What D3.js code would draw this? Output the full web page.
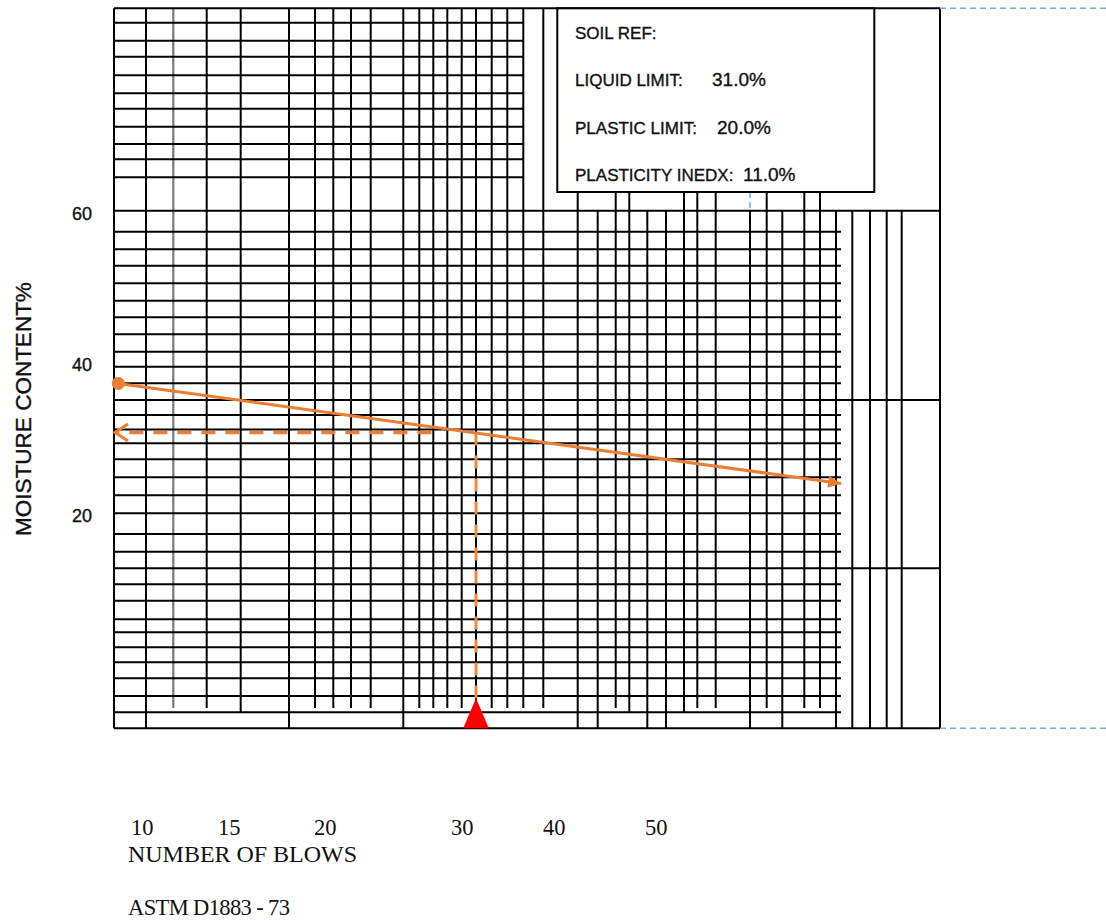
<!DOCTYPE html>
<html>
<head>
<meta charset="utf-8">
<script src="https://cdn.jsdelivr.net/npm/d3@7"></script>
<style>
  html, body { margin: 0; padding: 0; background: #fff; }
  svg { display: block; }
  text { white-space: pre; }
</style>
</head>
<body>
<svg id="chart"></svg>
<script>
// Values
const blows = [10, 63.7];            // flow curve end points (number of blows)
const moisture = [37.5, 24.25];      // moisture content % at those points
const yTicks = [60, 40, 20];
const xTickLabels = ["10", "15", "20", "30", "40", "50"];
const liquidLimit = 31.0;
const plasticLimit = 20.0;
const plasticityIndex = 11.0;
const llBlows = 25;
const guideFromBlows = 22.3;         // where the horizontal guide starts

const boxLabels = ["SOIL REF:", "LIQUID LIMIT:", "PLASTIC LIMIT:", "PLASTICITY INEDX:"];
const boxValues = [null, liquidLimit, plasticLimit, plasticityIndex];

// Page layout (the worksheet cell borders that make up the paper)
const width = 1106;
const height = 922;
const sheet = { left: 114, right: 940, top: 8.3, bottom: 728.3, band: 210.7, gridRight: 841, topRight: 523.3 };
const box = { left: 557.3, right: 874.3, top: 8.3, bottom: 192 };
const colTops = { t: sheet.top, b: box.bottom, m: sheet.band };
const colBottoms = { s: 708, m: 712.3, f: sheet.bottom };

// column border: [x, top, bottom]
const cols = [
    [114, "t", "f"], [146, "t", "f"], [206.7, "t", "s"], [240.7, "t", "m"],
    [289, "t", "f"], [315, "t", "s"], [333.3, "t", "s"], [351, "t", "s"], [370.7, "t", "s"],
    [403.3, "t", "f"], [419.3, "t", "s"], [433.3, "t", "s"], [447.3, "t", "s"], [461.7, "t", "s"],
    [476, "t", "m"], [491.7, "t", "s"], [507.3, "t", "s"], [523.3, "t", "s"], [543.3, "t", "s"],
    [577.7, "b", "f"], [597.7, "m", "f"], [615.7, "b", "s"], [629.3, "b", "m"], [647.3, "m", "f"],
    [666, "m", "f"], [684, "b", "m"], [697.3, "b", "s"], [715.7, "b", "s"], [750, "m", "f"],
    [766.7, "b", "s"], [782.3, "m", "f"], [804.3, "b", "s"], [820, "b", "s"], [836, "m", "f"],
    [852.3, "m", "f"], [870, "m", "f"], [886.7, "m", "f"], [901.7, "m", "f"], [940, "t", "f"]
];
const grayCol = 173.3;
const topRows = [22.7, 40.7, 56.7, 75.3, 93.3, 108.7, 126.7, 144, 159.3, 177.3];
const mainRows = [231.7, 249.3, 265.7, 283.3, 300.7, 317.3, 334.3, 351.7, 366.7, 383.3,
    415, 429.5, 443.3, 459.3, 477.3, 495.3, 513.3, 534, 551.7, 584.3, 600.7, 619.3,
    632.3, 647.3, 662.3, 678.3, 696, 712.3];
const fullRows = [sheet.top, sheet.band, 400, 568.3, sheet.bottom];
const boxValueX = [0, 712, 717, 743];
const xLabelCells = [131, 218, 314, 451, 543, 645];

const orange = "#ED7D31";
const sans = "Liberation Sans, Arial, sans-serif";
const serif = "Liberation Serif, Times New Roman, serif";

const svg = d3.select("#chart")
    .attr("width", width)
    .attr("height", height);

svg.append("rect").attr("width", width).attr("height", height).attr("fill", "#fff");

// Scales: semi-log paper
const x = d3.scaleLog()
    .domain([10, 25])
    .range([118.3, 476]);

const y = d3.scaleLinear()
    .domain([20, 60])
    .range([515.7, 213.3]);

// Grid
const grid = svg.append("g")
    .attr("stroke", "#000")
    .attr("stroke-width", 2)
    .attr("fill", "none");

grid.selectAll("line.col")
    .data(cols)
    .join("line")
    .attr("class", "col")
    .attr("x1", d => d[0]).attr("x2", d => d[0])
    .attr("y1", d => colTops[d[1]])
    .attr("y2", d => colBottoms[d[2]]);

grid.append("line")
    .attr("x1", grayCol).attr("x2", grayCol)
    .attr("y1", sheet.top).attr("y2", colBottoms.s)
    .attr("stroke", "#7a7a7a")
    .attr("stroke-width", 2.2);

grid.selectAll("line.top")
    .data(topRows)
    .join("line")
    .attr("class", "top")
    .attr("x1", sheet.left).attr("x2", sheet.topRight)
    .attr("y1", d => d).attr("y2", d => d);

grid.selectAll("line.main")
    .data(mainRows)
    .join("line")
    .attr("class", "main")
    .attr("x1", sheet.left).attr("x2", sheet.gridRight)
    .attr("y1", d => d).attr("y2", d => d);

grid.selectAll("line.full")
    .data(fullRows)
    .join("line")
    .attr("class", "full")
    .attr("x1", sheet.left).attr("x2", sheet.right)
    .attr("y1", d => d).attr("y2", d => d);

// page break marks
const pageBreak = svg.append("g")
    .attr("stroke", "#7EA6E0")
    .attr("stroke-width", 1.5)
    .attr("stroke-dasharray", "6,4");
pageBreak.selectAll("line.h")
    .data([sheet.top, sheet.bottom])
    .join("line")
    .attr("x1", sheet.right).attr("x2", width)
    .attr("y1", d => d).attr("y2", d => d);
pageBreak.append("line")
    .attr("x1", 750).attr("x2", 750)
    .attr("y1", box.bottom).attr("y2", sheet.band);

// Text box
svg.append("rect")
    .attr("x", box.left)
    .attr("y", box.top)
    .attr("width", box.right - box.left)
    .attr("height", box.bottom - box.top)
    .attr("fill", "#fff")
    .attr("stroke", "#000")
    .attr("stroke-width", 2);

const boxText = svg.selectAll("text.box")
    .data(boxLabels)
    .join("text")
    .attr("class", "box")
    .attr("x", 575)
    .attr("y", (d, i) => 38.5 + i * 47.5)
    .attr("font-family", sans)
    .attr("font-size", 17)
    .attr("fill", "#111")
    .attr("stroke", "#111")
    .attr("stroke-width", 0.35);

boxText.append("tspan").text(d => d);
boxText.filter((d, i) => boxValues[i] !== null)
    .append("tspan")
    .attr("x", d => boxValueX[boxLabels.indexOf(d)])
    .attr("font-size", 19)
    .text(d => boxValues[boxLabels.indexOf(d)].toFixed(1) + "%");

// Y axis labels
svg.selectAll("text.ytick")
    .data(yTicks)
    .join("text")
    .attr("class", "ytick")
    .attr("x", 92)
    .attr("y", d => y(d))
    .attr("dy", "0.35em")
    .attr("text-anchor", "end")
    .attr("font-family", sans)
    .attr("font-size", 18)
    .attr("fill", "#111")
    .attr("stroke", "#111")
    .attr("stroke-width", 0.35)
    .text(d => d);

svg.append("text")
    .attr("transform", "translate(31,409) rotate(-90)")
    .attr("text-anchor", "middle")
    .attr("font-family", sans)
    .attr("font-size", 22.5)
    .attr("fill", "#111")
    .attr("stroke", "#111")
    .attr("stroke-width", 0.35)
    .text("MOISTURE CONTENT%");

// X labels sit in the cells under the chart
svg.selectAll("text.xtick")
    .data(xTickLabels)
    .join("text")
    .attr("class", "xtick")
    .attr("x", (d, i) => xLabelCells[i])
    .attr("y", 835)
    .attr("font-family", serif)
    .attr("font-size", 22.5)
    .attr("fill", "#111")
    .text(d => d);

svg.append("text")
    .attr("x", 128).attr("y", 862)
    .attr("font-family", serif)
    .attr("font-size", 24)
    .attr("textLength", 229)
    .attr("fill", "#111")
    .text("NUMBER OF BLOWS");

svg.append("text")
    .attr("x", 128).attr("y", 915)
    .attr("font-family", serif)
    .attr("font-size", 22.5)
    .attr("textLength", 162)
    .attr("fill", "#111")
    .text("ASTM D1883 - 73");

// Arrow heads
const defs = svg.append("defs");
defs.append("marker")
    .attr("id", "solidArrow")
    .attr("markerUnits", "userSpaceOnUse")
    .attr("viewBox", "-16 -10 20 20")
    .attr("markerWidth", 20).attr("markerHeight", 20)
    .attr("refX", 0).attr("refY", 0)
    .attr("orient", "auto")
    .append("path")
    .attr("d", "M-13,-6L0,0L-13,6Z")
    .attr("fill", orange);

defs.append("marker")
    .attr("id", "openArrow")
    .attr("markerUnits", "userSpaceOnUse")
    .attr("viewBox", "-16 -12 20 24")
    .attr("markerWidth", 20).attr("markerHeight", 24)
    .attr("refX", 0).attr("refY", 0)
    .attr("orient", "auto")
    .append("path")
    .attr("d", "M-13,-8.5L0,0L-13,8.5")
    .attr("fill", "none")
    .attr("stroke", orange)
    .attr("stroke-width", 3);

// Liquid limit guides
svg.append("line")
    .attr("x1", x(guideFromBlows))
    .attr("x2", sheet.left + 1)
    .attr("y1", y(liquidLimit))
    .attr("y2", y(liquidLimit))
    .attr("stroke", orange)
    .attr("stroke-width", 3.5)
    .attr("stroke-dasharray", "14,10")
    .attr("marker-end", "url(#openArrow)");

const triH = 30, triW = 25.6;
svg.append("line")
    .attr("x1", x(llBlows)).attr("x2", x(llBlows))
    .attr("y1", y(liquidLimit))
    .attr("y2", sheet.bottom - triH)
    .attr("stroke", "#EE8A3C")
    .attr("stroke-width", 3)
    .attr("stroke-dasharray", "13,10");

svg.append("path")
    .attr("d", `M${x(llBlows) - triW / 2},${sheet.bottom}L${x(llBlows)},${sheet.bottom - triH}L${x(llBlows) + triW / 2},${sheet.bottom}Z`)
    .attr("fill", "#FF0000");

// Flow curve
const flow = blows.map((b, i) => ({ blows: b, mc: moisture[i] }));
const line = d3.line()
    .x(d => x(d.blows))
    .y(d => y(d.mc));

svg.append("path")
    .datum(flow)
    .attr("fill", "none")
    .attr("stroke", orange)
    .attr("stroke-width", 3)
    .attr("marker-end", "url(#solidArrow)")
    .attr("d", line);

svg.append("circle")
    .attr("cx", x(flow[0].blows))
    .attr("cy", y(flow[0].mc))
    .attr("r", 6.5)
    .attr("fill", orange);
</script>
</body>
</html>
